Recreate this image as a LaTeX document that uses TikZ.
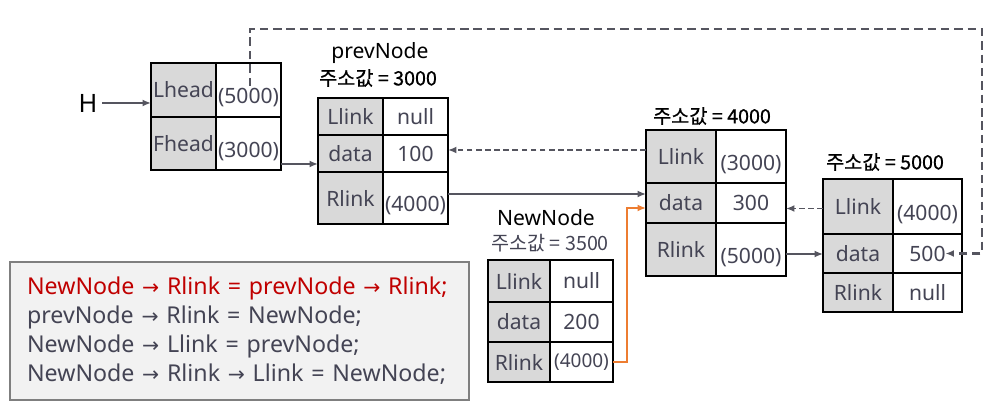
\documentclass[tikz,border=0pt]{standalone}
\usepackage{fontspec}
\setmainfont{Noto Sans}
\newfontfamily\kr{Noto Sans CJK KR}
\newfontfamily\krm[FakeBold=0.8]{Noto Sans CJK KR}
\newfontfamily\sym{DejaVu Sans}
\usetikzlibrary{arrows.meta,positioning}
\definecolor{cellgray}{HTML}{D9D9D9}
\definecolor{txtgray}{HTML}{444454}
\definecolor{linegray}{HTML}{55555F}
\definecolor{orangeln}{HTML}{ED7D31}
\definecolor{codered}{HTML}{C00000}
\definecolor{boxfill}{HTML}{F2F2F2}
\definecolor{boxdraw}{HTML}{7F7F7F}
\newcommand{\lowval}[1]{\raisebox{-0.2cm}[\height][\depth]{#1}}
\newcommand{\ptr}{{\sym\fontsize{14.5}{16}\selectfont →}}

\begin{document}
\begin{tikzpicture}[
    node distance=0pt,
    lcell/.style={draw=black, line width=1.1pt, fill=cellgray, text=txtgray, inner sep=0pt, outer sep=0pt, font=\fontsize{15}{18}\selectfont},
    vcell/.style={lcell, fill=white},
    title/.style={font=\fontsize{15}{18}\selectfont, text=black},
    addr/.style={font=\krm\fontsize{14}{16}\selectfont, text=black},
    link/.style={draw=linegray, line width=1.2pt, -{Latex[length=6pt,width=5pt]}},
    backlink/.style={link, dash pattern=on 4pt off 2.5pt},
    loopback/.style={link, line width=2pt, dash pattern=on 6pt off 3.5pt},
    newlink/.style={link, draw=orangeln, line width=1.6pt}
]
\useasboundingbox (0,0) rectangle (24.975,-10.2);

% Head block
\node[font=\fontsize{18}{20}\selectfont] (H) at (2.2,-2.575) {H};
\node[lcell, minimum width=1.625cm, minimum height=1.35cm] (hdL1) at (4.5875,-2.25) {Lhead};
\node[vcell, minimum width=1.625cm, minimum height=1.35cm, right=of hdL1] (hdV1) {\lowval{(5000)}};
\node[lcell, minimum width=1.625cm, minimum height=1.325cm, below=of hdL1] (hdL2) {Fhead};
\node[vcell, minimum width=1.625cm, minimum height=1.325cm, right=of hdL2] (hdV2) {\lowval{(3000)}};

% prevNode (3000)
\node[title] (prName) at (9.5,-1.325) {prevNode};
\node[addr] (prAddr) at (9.45,-1.95) {주소값 = 3000};
\node[lcell, minimum width=1.625cm, minimum height=0.925cm] (prL1) at (8.7625,-2.9125) {Llink};
\node[vcell, minimum width=1.625cm, minimum height=0.925cm, right=of prL1] (prV1) {null};
\node[lcell, minimum width=1.625cm, minimum height=0.925cm, below=of prL1] (prL2) {data};
\node[vcell, minimum width=1.625cm, minimum height=0.925cm, right=of prL2] (prV2) {100};
\node[lcell, minimum width=1.625cm, minimum height=1.3cm, below=of prL2] (prL3) {Rlink};
\node[vcell, minimum width=1.625cm, minimum height=1.3cm, right=of prL3] (prV3) {\lowval{(4000)}};

% node 4000
\node[addr] (n4Addr) at (17.8,-2.9) {주소값 = 4000};
\node[lcell, minimum width=1.75cm, minimum height=1.325cm] (n4L1) at (17.025,-3.9125) {Llink};
\node[vcell, minimum width=1.75cm, minimum height=1.325cm, right=of n4L1] (n4V1) {\lowval{(3000)}};
\node[lcell, minimum width=1.75cm, minimum height=1cm, below=of n4L1] (n4L2) {data};
\node[vcell, minimum width=1.75cm, minimum height=1cm, right=of n4L2] (n4V2) {300};
\node[lcell, minimum width=1.75cm, minimum height=1.325cm, below=of n4L2] (n4L3) {Rlink};
\node[vcell, minimum width=1.75cm, minimum height=1.325cm, right=of n4L3] (n4V3) {\lowval{(5000)}};

% node 5000
\node[addr] (n5Addr) at (22.125,-4.05) {주소값 = 5000};
\node[lcell, minimum width=1.75cm, minimum height=1.375cm] (n5L1) at (21.45,-5.1625) {Llink};
\node[vcell, minimum width=1.725cm, minimum height=1.375cm, right=of n5L1] (n5V1) {\lowval{(4000)}};
\node[lcell, minimum width=1.75cm, minimum height=0.975cm, below=of n5L1] (n5L2) {data};
\node[vcell, minimum width=1.725cm, minimum height=0.975cm, right=of n5L2] (n5V2) {500};
\node[lcell, minimum width=1.75cm, minimum height=0.975cm, below=of n5L2] (n5L3) {Rlink};
\node[vcell, minimum width=1.725cm, minimum height=0.975cm, right=of n5L3] (n5V3) {null};

% NewNode (3500)
\node[title] (nnName) at (13.65,-5.45) {NewNode};
\node[addr, font=\kr\fontsize{14}{16}\selectfont, text=txtgray] (nnAddr) at (13.75,-6.075) {주소값 = 3500};
\node[lcell, minimum width=1.55cm, minimum height=1.05cm] (nnL1) at (12.975,-7.025) {Llink};
\node[vcell, minimum width=1.575cm, minimum height=1.05cm, right=of nnL1] (nnV1) {null};
\node[lcell, minimum width=1.55cm, minimum height=1cm, below=of nnL1] (nnL2) {data};
\node[vcell, minimum width=1.575cm, minimum height=1cm, right=of nnL2] (nnV2) {200};
\node[lcell, minimum width=1.55cm, minimum height=1cm, below=of nnL2] (nnL3) {Rlink};
\node[vcell, minimum width=1.575cm, minimum height=1cm, right=of nnL3, font=\fontsize{13.5}{15}\selectfont] (nnV3) {(4000)};

% links
\draw[link] (H.east) -- (H.east -| hdL1.west);
\coordinate (fhOut) at ([yshift=-0.5125cm]hdV2.east);
\draw[link] (fhOut) -- (fhOut -| prL2.west);
\coordinate (prOut) at ([yshift=0.1cm]prV3.east);
\draw[link] (prOut) -- (prOut -| n4L2.west);
\coordinate (n4Back) at ([yshift=0.1625cm]n4L1.west);
\draw[backlink] (n4Back) -- (n4Back -| prV2.east);
\coordinate (n4Out) at ([yshift=-0.1125cm]n4V3.east);
\draw[link] (n4Out) -- (n4Out -| n5L2.west);
\coordinate (n5Back) at ([yshift=-0.05cm]n5L1.west);
\draw[backlink] (n5Back) -- (n5Back -| n4V2.east);

% new node link
\coordinate (nnIn) at ([yshift=-0.125cm]n4L2.west);
\draw[newlink] (nnV3.east) -- ++(0.35,0) |- (nnIn);

% last node link from Lhead
\coordinate (lpStart) at (6.25,-2.15);
\coordinate (lpEnd) at ([xshift=0.45cm]n5V2.center);
\draw[loopback] (lpStart) |- (24.55,-0.725) |- (lpEnd);

% code box
\node[draw=boxdraw, fill=boxfill, line width=0.8pt, minimum width=11.475cm, minimum height=3.45cm,
      text width=10.625cm, inner xsep=0.42cm, align=left, text=txtgray,
      font=\fontsize{16.5}{20.6}\selectfont] (code) at (5.9875,-8.275)
  {{\color{codered}NewNode \ptr{} Rlink = prevNode \ptr{} Rlink;}\\
   prevNode \ptr{} Rlink = NewNode;\\
   NewNode \ptr{} Llink = prevNode;\\
   NewNode \ptr{} Rlink \ptr{} Llink = NewNode;};

\end{tikzpicture}
\end{document}
